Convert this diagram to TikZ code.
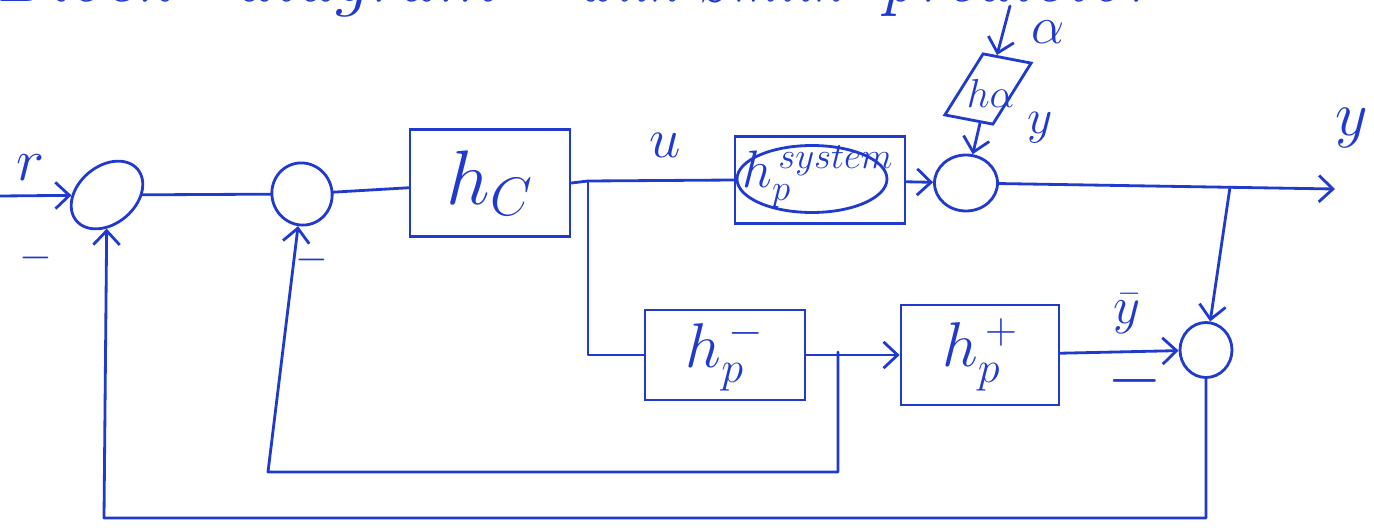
\RequirePackage{fix-cm}
\documentclass[tikz,border=0pt]{standalone}
\usepackage{amsmath}
\usepackage{graphicx}
\usetikzlibrary{shapes.geometric,arrows.meta}
\definecolor{ink}{RGB}{32,58,205}
\begin{document}
\begin{tikzpicture}[x=0.02cm,y=-0.02cm,
  sum/.style={ellipse, draw=ink, line width=1.6pt, inner sep=0pt},
  block/.style={rectangle, draw=ink, text=ink, line width=1.6pt, inner sep=0pt},
  wire/.style={draw=ink, line width=1.6pt, line cap=round, line join=round},
  sig/.style={wire, -{Straight Barb[length=8pt,width=15pt,line width=1.6pt]}},
  lbl/.style={text=ink, inner sep=0pt},
  head/.style={lbl, anchor=base west, font=\fontsize{44}{50}\selectfont\itshape}]
\useasboundingbox (0,0) rectangle (1374,531);

% heading, running off the top edge
\begin{scope}
  \clip (0,0) rectangle (1374,531);
  \node[head] (t1) at (-5,1) {Block};
  \node[head] (t2) at (232,1) {diagram};
  \node[head] (t3) at (575,1) {\scalebox{0.75}[1]{with Smith}};
  \node[head] (t4) at (880,1) {\scalebox{0.95}[1]{predictor}};
\end{scope}

% summing junctions
\node[sum, minimum width=1.6cm, minimum height=1.15cm, rotate=40] (s1) at (107,195) {};
\node[sum, minimum width=1.2cm, minimum height=1.25cm, rotate=20] (s2) at (302,194) {};
\node[sum, minimum width=1.26cm, minimum height=1.12cm] (s3) at (966,183) {};
\node[sum, minimum width=1.04cm, minimum height=1.1cm] (s4) at (1206,350) {};

% blocks
\node[block, minimum width=3.2cm, minimum height=2.15cm] (hc) at (490,183) {\fontsize{44}{50}\selectfont $h_C$};
\node[block, minimum width=3.4cm, minimum height=1.74cm] (hsys) at (820,180) {};
\node[sum, minimum width=3.0cm, minimum height=1.34cm] (hsysin) at (812,179) {};
\node[lbl] (hsyslbl) at (818,177) {\fontsize{30}{34}\selectfont $h_p^{\,system}$};
\node[block, minimum width=1.06cm, minimum height=1.24cm, xslant=0.45, rotate=-10] (ha) at (988,89) {};
\node[lbl] (halbl) at (991,93) {\fontsize{23}{26}\selectfont $h\alpha$};
\node[block, minimum width=3.2cm, minimum height=1.8cm] (hm) at (725,355) {\fontsize{36}{40}\selectfont $h_p^{\,-}$};
\node[block, minimum width=3.16cm, minimum height=2.0cm] (hpl) at (980,355) {\fontsize{36}{40}\selectfont $h_p^{\,+}$};

% free ends and branch points
\coordinate (rin) at (0,196);
\coordinate (j1) at (588,181);
\coordinate (ain) at (1010,6);
\coordinate (yout) at (1335,189);
\coordinate (j2) at (1230,187);
\coordinate (j3) at (838,352);
\coordinate (fb2) at (268,472);
\coordinate (fb1) at (104,518);

% connectors
\draw[sig] (rin) -- (s1);
\draw[wire] (s1) -- (s2);
\draw[wire] (s2) -- (hc);
\draw[wire] (hc.east) -- (j1) -- (hsys.west);
\draw[wire] (j1) |- (hm);
\draw[sig] (hsys) -- (s3);
\draw[sig] (ain) -- (ha);
\draw[sig] (ha) -- (s3);
\draw[sig] (s3) -- (yout);
\draw[sig] (j2) -- (s4);
\draw[sig] (hm) -- (hpl);
\draw[sig] (j3) |- (fb2) -- (s2);
\draw[sig] (hpl) -- (s4);
\draw[sig] (s4) |- (fb1) -- (s1);

% signal labels and signs
\node[lbl] (lr) at (30,168) {\fontsize{34}{40}\selectfont $r$};
\node[lbl] (m1) at (36,258) {\fontsize{24}{28}\selectfont $-$};
\node[lbl] (m2) at (312,260) {\fontsize{24}{28}\selectfont $-$};
\node[lbl] (m3) at (1135,381) {\fontsize{40}{44}\selectfont $-$};
\node[lbl] (lu) at (665,145) {\fontsize{32}{36}\selectfont $u$};
\node[lbl] (la) at (1048,32) {\fontsize{30}{34}\selectfont $\alpha$};
\node[lbl] (ly1) at (1040,128) {\fontsize{28}{32}\selectfont $y$};
\node[lbl] (ly2) at (1352,128) {\fontsize{36}{40}\selectfont $y$};
\node[lbl] (lyb) at (1127,314) {\fontsize{30}{34}\selectfont $\bar y$};
\end{tikzpicture}
\end{document}
